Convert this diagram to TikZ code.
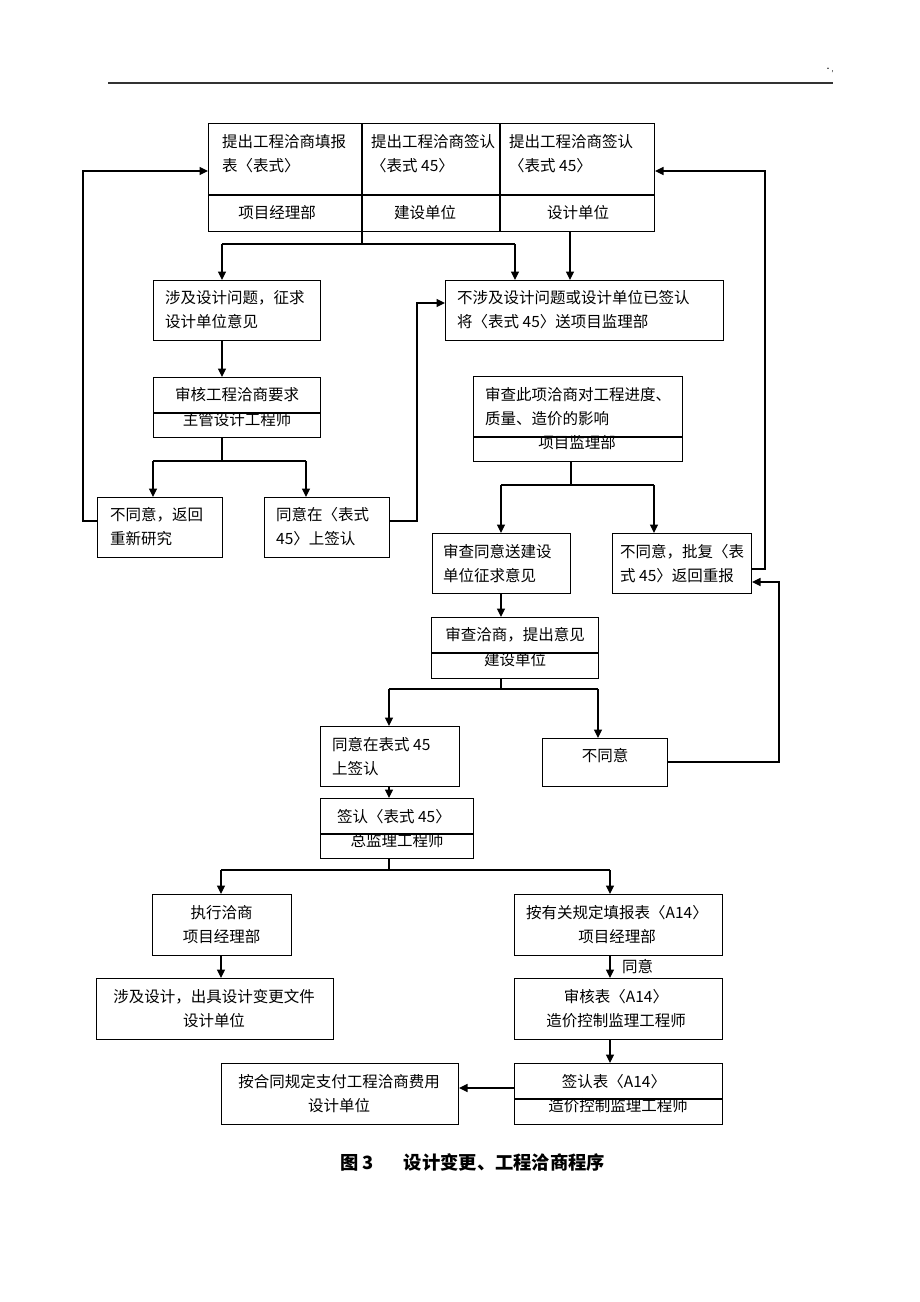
\documentclass[tikz,border=0pt]{standalone}
\usepackage{fontspec}
\setmainfont{Noto Sans CJK SC}
\usepackage{tikz}
\usetikzlibrary{arrows.meta}
\tikzset{
  every node/.style = {font = \fontsize{15.5}{24}\selectfont}
}
\tikzset{
    >={Triangle[length=8.5pt,width=8pt]}
}
\tikzset{
  box/.style = {draw, line width=1pt, inner sep=0pt, anchor=north west},
  txt/.style = {inner sep=0pt, align=left, anchor=west},
  ctxt/.style = {inner sep=0pt, align=center},
  conn/.style = {line width=1.1pt}
}

\begin{document}
\begin{tikzpicture}[x=1pt,y=-1pt]
\fill[white] (0,0) rectangle (920,1302);
\useasboundingbox (0,0) rectangle (920,1302);

% Header rule
\coordinate (hl) at (108,83);
\coordinate (hr) at (833,83);
\draw[line width=1.2pt,black!80] (hl) -- (hr);
\node[inner sep=0pt,font=\fontsize{7}{7}\selectfont] (mark) at (829,70) {·,};

% The boxes
\node[box, minimum width=446pt, minimum height=108pt] (top) at (208,123) {};
\draw[conn] ([xshift=154pt]top.north west) -- ([xshift=154pt]top.south west);
\draw[conn] ([xshift=292pt]top.north west) -- ([xshift=292pt]top.south west);
\draw[conn] ([yshift=-72pt]top.north west) -- ([yshift=-72pt]top.north east);
\node[txt] (top-a) at (222,153.5) {提出工程洽商填报\\表〈表式〉};
\node[txt] (top-b) at (371,153.5) {提出工程洽商签认\\〈表式 45〉};
\node[txt] (top-c) at (509,153.5) {提出工程洽商签认\\〈表式 45〉};
\node[ctxt] (top-d) at (277,213) {项目经理部};
\node[ctxt] (top-e) at (425,213) {建设单位};
\node[ctxt] (top-f) at (578,213) {设计单位};

\node[box, minimum width=167pt, minimum height=60pt] (sheji) at (153,280) {};
\node[txt] (sheji-t) at (165,310) {涉及设计问题，征求\\设计单位意见};

\node[box, minimum width=278pt, minimum height=60pt] (bushe) at (445,280) {};
\node[txt] (bushe-t) at (457,310) {不涉及设计问题或设计单位已签认\\将〈表式 45〉送项目监理部};

\node[box, minimum width=167pt, minimum height=60pt] (shenhe) at (153,377) {};
\draw[conn] ([yshift=-36pt]shenhe.north west) -- ([yshift=-36pt]shenhe.north east);
\node[ctxt] (shenhe-t) at (237,395) {审核工程洽商要求};
\node[ctxt] (shenhe-u) at (237,420) {主管设计工程师};

\node[box, minimum width=209pt, minimum height=85pt] (shencha) at (473,376) {};
\draw[conn] ([yshift=-61pt]shencha.north west) -- ([yshift=-61pt]shencha.north east);
\node[txt] (shencha-t) at (485,407) {审查此项洽商对工程进度、\\质量、造价的影响};
\node[ctxt] (shencha-u) at (577,443) {项目监理部};

\node[box, minimum width=125pt, minimum height=60pt] (butong1) at (97,497) {};
\node[txt] (butong1-t) at (110,526.5) {不同意，返回\\重新研究};

\node[box, minimum width=125pt, minimum height=60pt] (tongyi1) at (264,497) {};
\node[txt] (tongyi1-t) at (276,526.5) {同意在〈表式\\45〉上签认};

\node[box, minimum width=138pt, minimum height=60pt] (songjs) at (432,533) {};
\node[txt] (songjs-t) at (443,563.5) {审查同意送建设\\单位征求意见};

\node[box, minimum width=139pt, minimum height=60pt] (pifu) at (612,533) {};
\node[txt] (pifu-t) at (620,563.5) {不同意，批复〈表\\式 45〉返回重报};

\node[box, minimum width=167pt, minimum height=61pt] (jianshe) at (431,617) {};
\draw[conn] ([yshift=-36pt]jianshe.north west) -- ([yshift=-36pt]jianshe.north east);
\node[ctxt] (jianshe-t) at (515,635) {审查洽商，提出意见};
\node[ctxt] (jianshe-u) at (515,660) {建设单位};

\node[box, minimum width=139pt, minimum height=60pt] (tongyi2) at (320,726) {};
\node[txt] (tongyi2-t) at (332,757) {同意在表式 45\\上签认};

\node[box, minimum width=125pt, minimum height=48pt] (butong2) at (542,738) {};
\node[ctxt] (butong2-t) at (605,756) {不同意};

\node[box, minimum width=153pt, minimum height=60pt] (qianren) at (320,798) {};
\draw[conn] ([yshift=-36pt]qianren.north west) -- ([yshift=-36pt]qianren.north east);
\node[ctxt] (qianren-t) at (394,817) {签认〈表式 45〉};
\node[ctxt] (qianren-u) at (397,841) {总监理工程师};

\node[box, minimum width=139pt, minimum height=61pt] (zhixing) at (152,894) {};
\node[ctxt] (zhixing-t) at (221.5,925) {执行洽商\\项目经理部};

\node[box, minimum width=208pt, minimum height=61pt] (anguiding) at (514,894) {};
\node[ctxt] (anguiding-t) at (617,925) {按有关规定填报表〈A14〉\\项目经理部};

\node[box, minimum width=237pt, minimum height=61pt] (chuju) at (96,978) {};
\node[ctxt] (chuju-t) at (214,1009) {涉及设计，出具设计变更文件\\设计单位};

\node[box, minimum width=208pt, minimum height=61pt] (shenheA) at (514,978) {};
\node[ctxt] (shenheA-t) at (616,1009) {审核表〈A14〉\\造价控制监理工程师};

\node[box, minimum width=208pt, minimum height=61pt] (qianrenA) at (514,1063) {};
\draw[conn] ([yshift=-36pt]qianrenA.north west) -- ([yshift=-36pt]qianrenA.north east);
\node[ctxt] (qianrenA-t) at (614,1082) {签认表〈A14〉};
\node[ctxt] (qianrenA-u) at (618,1106) {造价控制监理工程师};

\node[box, minimum width=237pt, minimum height=61pt] (zhifu) at (221,1063) {};
\node[ctxt] (zhifu-t) at (339,1094) {按合同规定支付工程洽商费用\\设计单位};

% Junction points
\coordinate (j1) at (362,244);
\coordinate (j1l) at (222,244);
\coordinate (j1r) at (515,244);
\coordinate (c3) at (570,244);
\coordinate (j2) at (222,461);
\coordinate (j2l) at (153,461);
\coordinate (j2r) at (306,461);
\coordinate (j3) at (571,485);
\coordinate (j3l) at (501,485);
\coordinate (j3r) at (654,485);
\coordinate (j4) at (501,689);
\coordinate (j4l) at (389,689);
\coordinate (j4r) at (598,689);
\coordinate (j5) at (389,870);
\coordinate (j5l) at (221,870);
\coordinate (j5r) at (610,870);
\coordinate (j6) at (514,1088);
\coordinate (fl1) at (83,521);
\coordinate (fl2) at (83,171);
\coordinate (fm1) at (417,521);
\coordinate (fm2) at (417,303);
\coordinate (fr1) at (765,569);
\coordinate (fr2) at (765,171);
\coordinate (fb1) at (779,762);
\coordinate (fb2) at (779,582);

% Connectors
\draw[conn] (top.south -| j1) -- (j1);
\draw[conn] (j1l) -- (j1r);
\draw[conn,->] (j1l) -- (j1l |- sheji.north);
\draw[conn,->] (j1r) -- (j1r |- bushe.north);
\draw[conn,->] (top.south -| c3) -- (bushe.north -| c3);
\draw[conn,->] (sheji.south -| j1l) -- (shenhe.north -| j1l);

\draw[conn] (shenhe.south -| j2) -- (j2);
\draw[conn] (j2l) -- (j2r);
\draw[conn,->] (j2l) -- (j2l |- butong1.north);
\draw[conn,->] (j2r) -- (j2r |- tongyi1.north);
\draw[conn,->] (butong1.west |- fl1) -- (fl1) -- (fl2) -- (fl2 -| top.west);
\draw[conn,->] (tongyi1.east |- fm1) -- (fm1) -- (fm2) -- (fm2 -| bushe.west);

\draw[conn] (shencha.south -| j3) -- (j3);
\draw[conn] (j3l) -- (j3r);
\draw[conn,->] (j3l) -- (j3l |- songjs.north);
\draw[conn,->] (j3r) -- (j3r |- pifu.north);
\draw[conn,->] (pifu.east |- fr1) -- (fr1) -- (fr2) -- (fr2 -| top.east);
\draw[conn,->] (songjs.south -| j3l) -- (jianshe.north -| j3l);

\draw[conn] (jianshe.south -| j4) -- (j4);
\draw[conn] (j4l) -- (j4r);
\draw[conn,->] (j4l) -- (j4l |- tongyi2.north);
\draw[conn,->] (j4r) -- (j4r |- butong2.north);
\draw[conn,->] (butong2.east |- fb1) -- (fb1) -- (fb2) -- (fb2 -| pifu.east);
\draw[conn,->] (tongyi2.south -| j4l) -- (qianren.north -| j4l);

\draw[conn] (qianren.south -| j5) -- (j5);
\draw[conn] (j5l) -- (j5r);
\draw[conn,->] (j5l) -- (j5l |- zhixing.north);
\draw[conn,->] (j5r) -- (j5r |- anguiding.north);
\draw[conn,->] (zhixing.south -| j5l) -- (chuju.north -| j5l);
\draw[conn,->] (anguiding.south -| j5r) -- (shenheA.north -| j5r);
\node[txt] (tongyi-lbl) at (622,967) {同意};
\draw[conn,->] (shenheA.south -| j5r) -- (qianrenA.north -| j5r);
\draw[conn,->] (qianrenA.west |- j6) -- (j6 -| zhifu.east);

% Caption
\node[txt, font=\fontsize{18.3}{21}\selectfont\bfseries] (caption) at (340,1162) {图 3\hspace{30pt}设计变更、工程洽商程序};
\end{tikzpicture}
\end{document}
